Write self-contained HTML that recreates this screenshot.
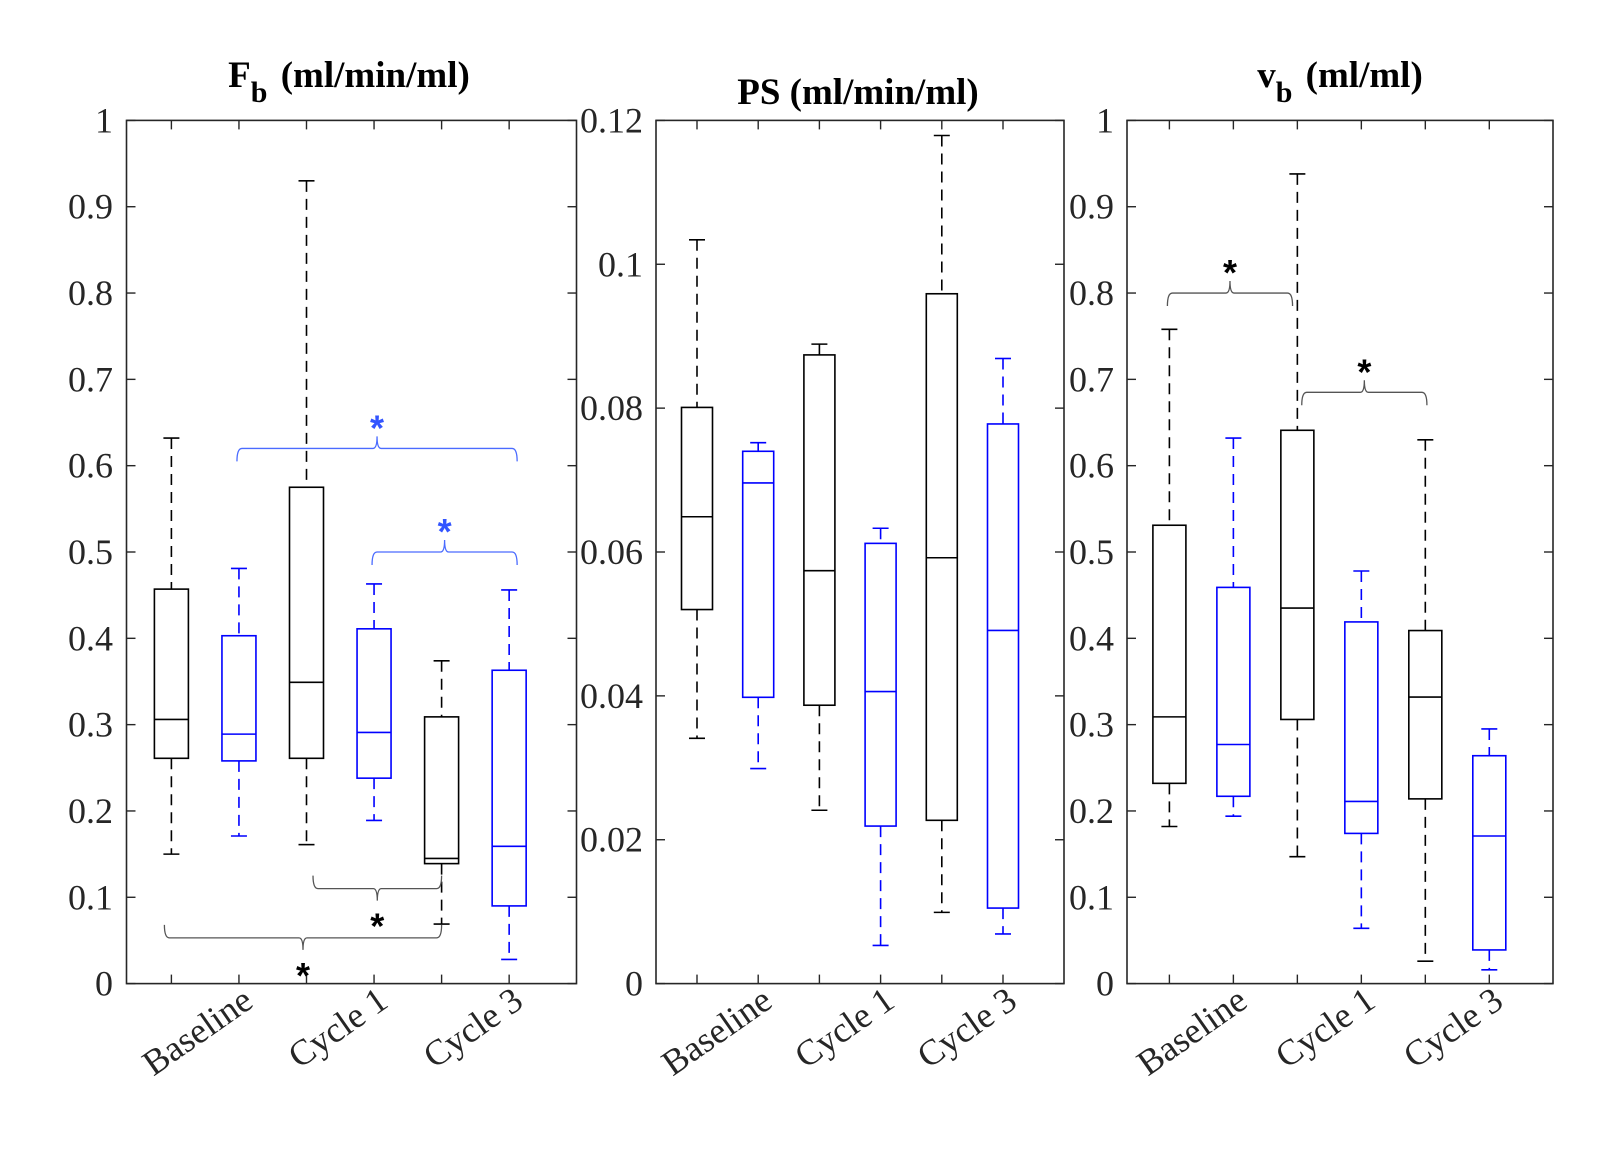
<!DOCTYPE html>
<html><head><meta charset="utf-8"><style>
html,body{margin:0;padding:0;background:#fff;}
svg{display:block;font-family:"Liberation Serif",serif;}
</style></head><body>
<svg id="chart" width="1601" height="1166" viewBox="0 0 1601 1166" xmlns="http://www.w3.org/2000/svg">
<rect width="1601" height="1166" fill="#fff"/>
</svg>
<script>
// group colors: black, blue alternating
const groupColors = ["#000","#00f","#000","#00f","#000","#00f"];
const xTickLabels = ["Baseline","Cycle 1","Cycle 3"];
// Panel 1: Fb [low, q1, median, q3, high]
const fbLow = [0.150,0.171,0.161,0.189,0.069,0.028];
const fbQ1  = [0.261,0.258,0.261,0.238,0.139,0.090];
const fbMed = [0.306,0.289,0.349,0.291,0.145,0.159];
const fbQ3  = [0.457,0.403,0.575,0.411,0.309,0.363];
const fbHigh= [0.632,0.481,0.930,0.463,0.374,0.456];
const fbTicks = ["0","0.1","0.2","0.3","0.4","0.5","0.6","0.7","0.8","0.9","1"];
// Panel 2: PS
const psLow = [0.0341,0.0299,0.0241,0.0053,0.0099,0.0069];
const psQ1  = [0.0520,0.0398,0.0387,0.0219,0.0227,0.0105];
const psMed = [0.0649,0.0696,0.0574,0.0406,0.0592,0.0491];
const psQ3  = [0.0801,0.0740,0.0874,0.0612,0.0959,0.0778];
const psHigh= [0.1034,0.0752,0.0889,0.0633,0.1179,0.0869];
const psTicks = ["0","0.02","0.04","0.06","0.08","0.1","0.12"];
// Panel 3: vb
const vbLow = [0.182,0.194,0.147,0.064,0.026,0.016];
const vbQ1  = [0.232,0.217,0.306,0.174,0.214,0.039];
const vbMed = [0.309,0.277,0.435,0.211,0.332,0.171];
const vbQ3  = [0.531,0.459,0.641,0.419,0.409,0.264];
const vbHigh= [0.758,0.632,0.938,0.478,0.630,0.295];
const vbTicks = ["0","0.1","0.2","0.3","0.4","0.5","0.6","0.7","0.8","0.9","1"];
// significance brackets: [fromGroup, toGroup, value-level, direction(1=up tip,-1=down tip), color]
const fbSig = [[2,6,0.62,1,"#4a6bff"],[4,6,0.50,1,"#4a6bff"],[3.2,5,0.11,-1,"#555"],[1,5,0.053,-1,"#555"]];
const psSig = [];
const vbSig = [[1,2.8,0.80,1,"#555"],[3.1,4.9,0.685,1,"#555"]];

const svg = document.getElementById('chart');
const NS = "http://www.w3.org/2000/svg";
function mk(tag, attrs, parent){const e=document.createElementNS(NS,tag);for(const k in attrs)e.setAttribute(k,attrs[k]);(parent||svg).appendChild(e);return e;}

const panels = [
 {name:"fb",x0:126.5,x1:576.5,p0:171.4,dp:67.55,max:1,low:fbLow,q1:fbQ1,med:fbMed,q3:fbQ3,high:fbHigh,ticks:fbTicks,sig:fbSig,title:["F","b"," (ml/min/ml)"],tx:349,ty:87,labX:113,bw:34},
 {name:"ps",x0:656,x1:1064,p0:697,dp:61.2,max:0.12,low:psLow,q1:psQ1,med:psMed,q3:psQ3,high:psHigh,ticks:psTicks,sig:psSig,title:["PS (ml/min/ml)"],tx:858,ty:104,labX:643,bw:31},
 {name:"vb",x0:1127,x1:1553,p0:1169.4,dp:63.98,max:1,low:vbLow,q1:vbQ1,med:vbMed,q3:vbQ3,high:vbHigh,ticks:vbTicks,sig:vbSig,title:["v","b"," (ml/ml)"],tx:1340,ty:87,labX:1114,bw:33}
];
const yTop=120.4, yBot=983.6;

panels.forEach(P=>{
  const g=mk('g',{});
  
  
  const y=v=>yBot-(v/P.max)*(yBot-yTop);
  const x=i=>P.p0+P.dp*(i-1);
  const ax=mk('rect',{x:P.x0,y:yTop,width:P.x1-P.x0,height:yBot-yTop,fill:"none",stroke:"#262626","stroke-width":1.6},g);
  
  
  P.ticks.forEach((t,k)=>{
    const v=P.max*k/(P.ticks.length-1);
    const yy=y(v);
    mk('line',{x1:P.x0,x2:P.x0+9,y1:yy,y2:yy,stroke:"#262626","stroke-width":1.4},g);
    mk('line',{x1:P.x1,x2:P.x1-9,y1:yy,y2:yy,stroke:"#262626","stroke-width":1.4},g);
    const tl=mk('text',{x:P.labX,y:yy+12,"text-anchor":"end","font-size":36,fill:"#262626"},g);
    tl.textContent=t;
    
    
  });
  for(let i=1;i<=6;i++){
    mk('line',{x1:x(i),x2:x(i),y1:yBot,y2:yBot-9,stroke:"#262626","stroke-width":1.4},g);
    mk('line',{x1:x(i),x2:x(i),y1:yTop,y2:yTop+9,stroke:"#262626","stroke-width":1.4},g);
  }
  xTickLabels.forEach((l,k)=>{
    const xi=x(2*(k+1))+16, yi=yBot+22;
    const tl=mk('text',{x:xi,y:yi,"text-anchor":"end","font-size":36,fill:"#262626",transform:`rotate(-35 ${xi} ${yi})`},g);
    tl.textContent=l;
    
    
  });
  for(let i=0;i<6;i++){
    const c=groupColors[i], cx=x(i+1), hw=P.bw/2;
    const bg=mk('g',{},g);
    
    
    mk('line',{x1:cx,x2:cx,y1:y(P.high[i]),y2:y(P.q3[i]),stroke:c,"stroke-width":1.6,"stroke-dasharray":"11,7"},bg);
    mk('line',{x1:cx,x2:cx,y1:y(P.q1[i]),y2:y(P.low[i]),stroke:c,"stroke-width":1.6,"stroke-dasharray":"11,7"},bg);
    mk('line',{x1:cx-8,x2:cx+8,y1:y(P.high[i]),y2:y(P.high[i]),stroke:c,"stroke-width":1.6},bg);
    mk('line',{x1:cx-8,x2:cx+8,y1:y(P.low[i]),y2:y(P.low[i]),stroke:c,"stroke-width":1.6},bg);
    mk('rect',{x:cx-hw,y:y(P.q3[i]),width:P.bw,height:y(P.q1[i])-y(P.q3[i]),fill:"none",stroke:c,"stroke-width":1.6},bg);
    mk('line',{x1:cx-hw,x2:cx+hw,y1:y(P.med[i]),y2:y(P.med[i]),stroke:c,"stroke-width":1.6},bg);
  }
  P.sig.forEach((s,k)=>{
    const [a,b,lv,dir,col]=s;
    const xa=x(a)+ (dir>0? -2: -7), xb=x(b)+(dir>0? 8: 0), yy=y(lv), xm=(xa+xb)/2;
    const sg=mk('g',{},g);
    
    
    const e=13*dir, t=-12*dir;
    mk('path',{d:`M${xa},${yy+e} Q${xa},${yy} ${xa+5},${yy} L${xm-4},${yy} Q${xm},${yy} ${xm},${yy+t} Q${xm},${yy} ${xm+4},${yy} L${xb-5},${yy} Q${xb},${yy} ${xb},${yy+e}`,fill:"none",stroke:col,"stroke-width":1.3},sg);
    const st=mk('text',{x:xm,y:dir>0? yy-8: yy+50,"text-anchor":"middle","font-size":36,"font-weight":"bold",fill:col==="#555"?"#000":"#3355ff","font-family":"Liberation Sans, sans-serif"},sg);
    st.textContent="*";
  });
  const tt=mk('text',{x:P.tx,y:P.ty,"text-anchor":"middle","font-size":37,"font-weight":"bold",fill:"#000"},g);
  
  
  if(P.title.length===1){tt.textContent=P.title[0];}
  else{
    const s1=mk('tspan',{},tt);s1.textContent=P.title[0];
    const s2=mk('tspan',{dy:15,"font-size":30},tt);s2.textContent=P.title[1];
    const s3=mk('tspan',{dy:-15,dx:4},tt);s3.textContent=P.title[2];
  }
});
</script>
</body></html>
